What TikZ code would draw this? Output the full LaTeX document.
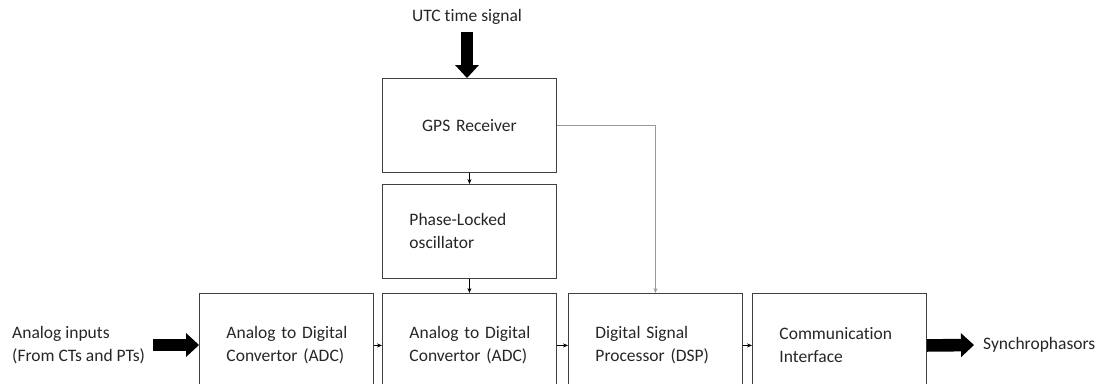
\documentclass[tikz,border=0pt]{standalone}
\usepackage{fontspec}
\setmainfont{Carlito}[Ligatures=NoCommon]
\usetikzlibrary{arrows.meta}
\begin{document}
\begin{tikzpicture}[x=1pt,y=-1pt,
  txt/.style={font=\fontsize{17.5}{23}\selectfont, text=black!85},
  blk/.style={txt, draw=black!75, line width=0.9pt, anchor=north west,
    minimum width=174pt, minimum height=#1, inner sep=0pt, text width=174pt},
  lblk/.style={blk=#1, align=left,
    execute at begin node={\leftskip=27pt\relax\hyphenpenalty=10000\relax}},
  cblk/.style={blk=#1, align=center},
  link/.style={draw=black, line width=0.6pt, -{Stealth[length=5pt,width=4pt]}},
  clk/.style={draw=black!40, line width=0.9pt, -{Stealth[length=5pt,width=4pt]}},
  fat/.style={draw=black, line width=12.6pt,
    -{Triangle[length=13pt,width=24pt,line width=0pt]}}]
\useasboundingbox (0,0) rectangle (1097,383);
\clip (0,0) rectangle (1097,383);

% timing chain
\node[cblk=94pt] (gps) at (382,78) {GPS Receiver};
\node[lblk=94pt] (pll) at (382,184) {Phase-Locked\\oscillator};

% measurement chain
\node[lblk=104pt] (adc1) at (199,293) {Analog to Digital\\Convertor (ADC)};
\node[lblk=104pt] (adc2) at (382,293) {Analog to Digital\\Convertor (ADC)};
\node[lblk=104pt] (dsp)  at (568,293) {Digital Signal\\Processor (DSP)};
\node[lblk=104pt] (comm) at (752,293) {Communication\\Interface};

% external signals
\node[txt] (utc) at (467,17) {UTC time signal};
\node[txt, anchor=west, align=left, inner sep=0pt] (ain) at (12,345)
  {Analog inputs\\(From CTs and PTs)};
\node[txt, anchor=west, inner sep=0pt] (syn) at (983,345) {Synchrophasors};
\coordinate (utcin) at (467,32);
\coordinate (aout) at (153,345);
\coordinate (sout) at (974,345);

% thick input/output arrows
\draw[fat] (utcin) -- (utcin |- gps.north);
\draw[fat] (aout) -- (aout -| adc1.west);
\draw[fat] (comm.east) -- (sout);

% internal connections
\draw[link] (gps.south) -- (pll.north);
\draw[link] (pll.south) -- (adc2.north);
\draw[link] (adc1.east) -- (adc2.west);
\draw[link] (adc2.east) -- (dsp.west);
\draw[link] (dsp.east) -- (comm.west);
\draw[clk] (gps.east) -| (dsp.north);
\end{tikzpicture}
\end{document}
